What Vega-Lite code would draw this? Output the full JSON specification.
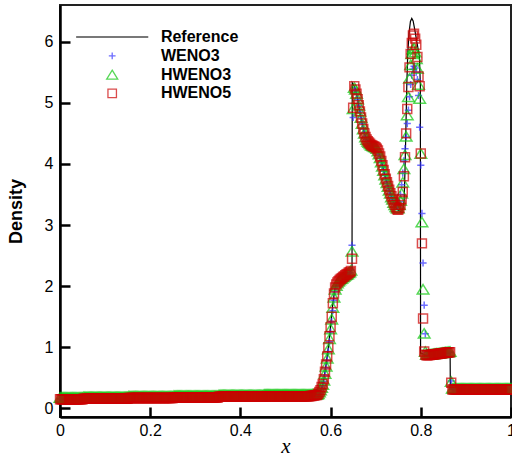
{
"$schema":"https://vega.github.io/schema/vega-lite/v6.json",
"width":451,"height":412,
"autosize":{"type":"none"},
"padding":{"left":60,"top":5,"right":1,"bottom":43},
"background":"white",
"config":{
 "view":{"stroke":"#222","strokeWidth":2},
 "font":"Liberation Sans",
 "axis":{"domainColor":"black","domainWidth":2.5,"tickColor":"black","tickWidth":2.5,"tickSize":-10,"labelFontSize":16,"labelColor":"black","labelFont":"Liberation Sans","grid":false,"labelFlush":false,"labelOverlap":false}
},
"datasets":{
"ref":[
{"x":0,"y":0.15},{"x":0.2,"y":0.17},{"x":0.4,"y":0.19},{"x":0.55,"y":0.205},{"x":0.57,"y":0.215},{"x":0.575,"y":0.23},{"x":0.58,"y":0.32},{"x":0.585,"y":0.48},{"x":0.59,"y":0.72},{"x":0.595,"y":1.0},{"x":0.6,"y":1.35},{"x":0.605,"y":1.72},{"x":0.61,"y":1.98},{"x":0.615,"y":2.06},{"x":0.62,"y":2.1},{"x":0.63,"y":2.16},{"x":0.64,"y":2.22},{"x":0.6475,"y":2.26},{"x":0.648,"y":5.33},{"x":0.652,"y":5.28},{"x":0.655,"y":5.22},{"x":0.66,"y":5.06},{"x":0.665,"y":4.86},{"x":0.67,"y":4.66},{"x":0.675,"y":4.5},{"x":0.68,"y":4.4},{"x":0.69,"y":4.32},{"x":0.7,"y":4.27},{"x":0.705,"y":4.22},{"x":0.71,"y":4.12},{"x":0.715,"y":3.98},{"x":0.72,"y":3.83},{"x":0.725,"y":3.7},{"x":0.73,"y":3.58},{"x":0.735,"y":3.47},{"x":0.74,"y":3.37},{"x":0.745,"y":3.29},{"x":0.75,"y":3.24},{"x":0.755,"y":3.22},{"x":0.76,"y":3.25},{"x":0.763,"y":3.4},{"x":0.765,"y":3.9},{"x":0.767,"y":4.6},{"x":0.769,"y":5.3},{"x":0.771,"y":5.8},{"x":0.774,"y":6.15},{"x":0.777,"y":6.33},{"x":0.78,"y":6.38},{"x":0.783,"y":6.34},{"x":0.786,"y":6.22},{"x":0.79,"y":6.05},{"x":0.794,"y":5.88},{"x":0.797,"y":5.75},{"x":0.799,"y":5.3},{"x":0.7995,"y":0.9},{"x":0.81,"y":0.88},{"x":0.83,"y":0.89},{"x":0.85,"y":0.9},{"x":0.865,"y":0.91},{"x":0.8655,"y":0.34},{"x":0.9,"y":0.33},{"x":1,"y":0.33}
],
"sim":[
{"x":0,"W":0.16,"H3":0.18,"H5":0.15},{"x":0.0025,"W":0.16,"H3":0.18,"H5":0.15},{"x":0.005,"W":0.16,"H3":0.18,"H5":0.15},{"x":0.0075,"W":0.16,"H3":0.18,"H5":0.15},{"x":0.01,"W":0.16,"H3":0.18,"H5":0.15},{"x":0.0125,"W":0.16,"H3":0.18,"H5":0.15},{"x":0.015,"W":0.16,"H3":0.18,"H5":0.15},{"x":0.0175,"W":0.16,"H3":0.18,"H5":0.15},{"x":0.02,"W":0.16,"H3":0.18,"H5":0.15},{"x":0.0225,"W":0.16,"H3":0.18,"H5":0.15},{"x":0.025,"W":0.16,"H3":0.18,"H5":0.15},{"x":0.0275,"W":0.16,"H3":0.18,"H5":0.15},{"x":0.03,"W":0.16,"H3":0.18,"H5":0.15},{"x":0.0325,"W":0.16,"H3":0.18,"H5":0.15},{"x":0.035,"W":0.16,"H3":0.18,"H5":0.15},{"x":0.0375,"W":0.16,"H3":0.18,"H5":0.15},{"x":0.04,"W":0.16,"H3":0.18,"H5":0.15},{"x":0.0425,"W":0.16,"H3":0.18,"H5":0.15},{"x":0.045,"W":0.16,"H3":0.18,"H5":0.15},{"x":0.0475,"W":0.16,"H3":0.18,"H5":0.15},{"x":0.05,"W":0.16,"H3":0.18,"H5":0.15},
{"x":0.0525,"W":0.17,"H3":0.19,"H5":0.16},{"x":0.055,"W":0.17,"H3":0.19,"H5":0.16},{"x":0.0575,"W":0.17,"H3":0.19,"H5":0.16},{"x":0.06,"W":0.17,"H3":0.19,"H5":0.16},{"x":0.0625,"W":0.17,"H3":0.19,"H5":0.16},{"x":0.065,"W":0.17,"H3":0.19,"H5":0.16},{"x":0.0675,"W":0.17,"H3":0.19,"H5":0.16},{"x":0.07,"W":0.17,"H3":0.19,"H5":0.16},{"x":0.0725,"W":0.17,"H3":0.19,"H5":0.16},{"x":0.075,"W":0.17,"H3":0.19,"H5":0.16},{"x":0.0775,"W":0.17,"H3":0.19,"H5":0.16},{"x":0.08,"W":0.17,"H3":0.19,"H5":0.16},{"x":0.0825,"W":0.17,"H3":0.19,"H5":0.16},{"x":0.085,"W":0.17,"H3":0.19,"H5":0.16},{"x":0.0875,"W":0.17,"H3":0.19,"H5":0.16},{"x":0.09,"W":0.17,"H3":0.19,"H5":0.16},{"x":0.0925,"W":0.17,"H3":0.19,"H5":0.16},{"x":0.095,"W":0.17,"H3":0.19,"H5":0.16},{"x":0.0975,"W":0.17,"H3":0.19,"H5":0.16},{"x":0.1,"W":0.17,"H3":0.19,"H5":0.16},{"x":0.1025,"W":0.17,"H3":0.19,"H5":0.16},{"x":0.105,"W":0.17,"H3":0.19,"H5":0.16},{"x":0.1075,"W":0.17,"H3":0.19,"H5":0.16},{"x":0.11,"W":0.17,"H3":0.19,"H5":0.16},{"x":0.1125,"W":0.17,"H3":0.19,"H5":0.16},{"x":0.115,"W":0.17,"H3":0.19,"H5":0.16},{"x":0.1175,"W":0.17,"H3":0.19,"H5":0.16},{"x":0.12,"W":0.17,"H3":0.19,"H5":0.16},{"x":0.1225,"W":0.17,"H3":0.19,"H5":0.16},{"x":0.125,"W":0.17,"H3":0.19,"H5":0.16},{"x":0.1275,"W":0.17,"H3":0.19,"H5":0.16},{"x":0.13,"W":0.17,"H3":0.19,"H5":0.16},{"x":0.1325,"W":0.17,"H3":0.19,"H5":0.16},{"x":0.135,"W":0.17,"H3":0.19,"H5":0.16},{"x":0.1375,"W":0.17,"H3":0.19,"H5":0.16},{"x":0.14,"W":0.17,"H3":0.19,"H5":0.16},{"x":0.1425,"W":0.17,"H3":0.19,"H5":0.16},{"x":0.145,"W":0.17,"H3":0.19,"H5":0.16},{"x":0.1475,"W":0.17,"H3":0.19,"H5":0.16},{"x":0.15,"W":0.17,"H3":0.19,"H5":0.16},
{"x":0.1525,"W":0.18,"H3":0.2,"H5":0.17},{"x":0.155,"W":0.18,"H3":0.2,"H5":0.17},{"x":0.1575,"W":0.18,"H3":0.2,"H5":0.17},{"x":0.16,"W":0.18,"H3":0.2,"H5":0.17},{"x":0.1625,"W":0.18,"H3":0.2,"H5":0.17},{"x":0.165,"W":0.18,"H3":0.2,"H5":0.17},{"x":0.1675,"W":0.18,"H3":0.2,"H5":0.17},{"x":0.17,"W":0.18,"H3":0.2,"H5":0.17},{"x":0.1725,"W":0.18,"H3":0.2,"H5":0.17},{"x":0.175,"W":0.18,"H3":0.2,"H5":0.17},{"x":0.1775,"W":0.18,"H3":0.2,"H5":0.17},{"x":0.18,"W":0.18,"H3":0.2,"H5":0.17},{"x":0.1825,"W":0.18,"H3":0.2,"H5":0.17},{"x":0.185,"W":0.18,"H3":0.2,"H5":0.17},{"x":0.1875,"W":0.18,"H3":0.2,"H5":0.17},{"x":0.19,"W":0.18,"H3":0.2,"H5":0.17},{"x":0.1925,"W":0.18,"H3":0.2,"H5":0.17},{"x":0.195,"W":0.18,"H3":0.2,"H5":0.17},{"x":0.1975,"W":0.18,"H3":0.2,"H5":0.17},{"x":0.2,"W":0.18,"H3":0.2,"H5":0.17},{"x":0.2025,"W":0.18,"H3":0.2,"H5":0.17},{"x":0.205,"W":0.18,"H3":0.2,"H5":0.17},{"x":0.2075,"W":0.18,"H3":0.2,"H5":0.17},{"x":0.21,"W":0.18,"H3":0.2,"H5":0.17},{"x":0.2125,"W":0.18,"H3":0.2,"H5":0.17},{"x":0.215,"W":0.18,"H3":0.2,"H5":0.17},{"x":0.2175,"W":0.18,"H3":0.2,"H5":0.17},{"x":0.22,"W":0.18,"H3":0.2,"H5":0.17},{"x":0.2225,"W":0.18,"H3":0.2,"H5":0.17},{"x":0.225,"W":0.18,"H3":0.2,"H5":0.17},{"x":0.2275,"W":0.18,"H3":0.2,"H5":0.17},{"x":0.23,"W":0.18,"H3":0.2,"H5":0.17},{"x":0.2325,"W":0.18,"H3":0.2,"H5":0.17},{"x":0.235,"W":0.18,"H3":0.2,"H5":0.17},{"x":0.2375,"W":0.18,"H3":0.2,"H5":0.17},{"x":0.24,"W":0.18,"H3":0.2,"H5":0.17},{"x":0.2425,"W":0.18,"H3":0.2,"H5":0.17},{"x":0.245,"W":0.18,"H3":0.2,"H5":0.17},{"x":0.2475,"W":0.18,"H3":0.2,"H5":0.17},{"x":0.25,"W":0.18,"H3":0.2,"H5":0.17},
{"x":0.2525,"W":0.19,"H3":0.21,"H5":0.18},{"x":0.255,"W":0.19,"H3":0.21,"H5":0.18},{"x":0.2575,"W":0.19,"H3":0.21,"H5":0.18},{"x":0.26,"W":0.19,"H3":0.21,"H5":0.18},{"x":0.2625,"W":0.19,"H3":0.21,"H5":0.18},{"x":0.265,"W":0.19,"H3":0.21,"H5":0.18},{"x":0.2675,"W":0.19,"H3":0.21,"H5":0.18},{"x":0.27,"W":0.19,"H3":0.21,"H5":0.18},{"x":0.2725,"W":0.19,"H3":0.21,"H5":0.18},{"x":0.275,"W":0.19,"H3":0.21,"H5":0.18},{"x":0.2775,"W":0.19,"H3":0.21,"H5":0.18},{"x":0.28,"W":0.19,"H3":0.21,"H5":0.18},{"x":0.2825,"W":0.19,"H3":0.21,"H5":0.18},{"x":0.285,"W":0.19,"H3":0.21,"H5":0.18},{"x":0.2875,"W":0.19,"H3":0.21,"H5":0.18},{"x":0.29,"W":0.19,"H3":0.21,"H5":0.18},{"x":0.2925,"W":0.19,"H3":0.21,"H5":0.18},{"x":0.295,"W":0.19,"H3":0.21,"H5":0.18},{"x":0.2975,"W":0.19,"H3":0.21,"H5":0.18},{"x":0.3,"W":0.19,"H3":0.21,"H5":0.18},{"x":0.3025,"W":0.19,"H3":0.21,"H5":0.18},{"x":0.305,"W":0.19,"H3":0.21,"H5":0.18},{"x":0.3075,"W":0.19,"H3":0.21,"H5":0.18},{"x":0.31,"W":0.19,"H3":0.21,"H5":0.18},{"x":0.3125,"W":0.19,"H3":0.21,"H5":0.18},{"x":0.315,"W":0.19,"H3":0.21,"H5":0.18},{"x":0.3175,"W":0.19,"H3":0.21,"H5":0.18},{"x":0.32,"W":0.19,"H3":0.21,"H5":0.18},{"x":0.3225,"W":0.19,"H3":0.21,"H5":0.18},{"x":0.325,"W":0.19,"H3":0.21,"H5":0.18},{"x":0.3275,"W":0.19,"H3":0.21,"H5":0.18},{"x":0.33,"W":0.19,"H3":0.21,"H5":0.18},{"x":0.3325,"W":0.19,"H3":0.21,"H5":0.18},{"x":0.335,"W":0.19,"H3":0.21,"H5":0.18},{"x":0.3375,"W":0.19,"H3":0.21,"H5":0.18},{"x":0.34,"W":0.19,"H3":0.21,"H5":0.18},{"x":0.3425,"W":0.19,"H3":0.21,"H5":0.18},{"x":0.345,"W":0.19,"H3":0.21,"H5":0.18},{"x":0.3475,"W":0.19,"H3":0.21,"H5":0.18},{"x":0.35,"W":0.19,"H3":0.21,"H5":0.18},
{"x":0.3525,"W":0.2,"H3":0.22,"H5":0.19},{"x":0.355,"W":0.2,"H3":0.22,"H5":0.19},{"x":0.3575,"W":0.2,"H3":0.22,"H5":0.19},{"x":0.36,"W":0.2,"H3":0.22,"H5":0.19},{"x":0.3625,"W":0.2,"H3":0.22,"H5":0.19},{"x":0.365,"W":0.2,"H3":0.22,"H5":0.19},{"x":0.3675,"W":0.2,"H3":0.22,"H5":0.19},{"x":0.37,"W":0.2,"H3":0.22,"H5":0.19},{"x":0.3725,"W":0.2,"H3":0.22,"H5":0.19},{"x":0.375,"W":0.2,"H3":0.22,"H5":0.19},{"x":0.3775,"W":0.2,"H3":0.22,"H5":0.19},{"x":0.38,"W":0.2,"H3":0.22,"H5":0.19},{"x":0.3825,"W":0.2,"H3":0.22,"H5":0.19},{"x":0.385,"W":0.2,"H3":0.22,"H5":0.19},{"x":0.3875,"W":0.2,"H3":0.22,"H5":0.19},{"x":0.39,"W":0.2,"H3":0.22,"H5":0.19},{"x":0.3925,"W":0.2,"H3":0.22,"H5":0.19},{"x":0.395,"W":0.2,"H3":0.22,"H5":0.19},{"x":0.3975,"W":0.2,"H3":0.22,"H5":0.19},{"x":0.4,"W":0.2,"H3":0.22,"H5":0.19},{"x":0.4025,"W":0.2,"H3":0.22,"H5":0.19},{"x":0.405,"W":0.2,"H3":0.22,"H5":0.19},{"x":0.4075,"W":0.2,"H3":0.22,"H5":0.19},{"x":0.41,"W":0.2,"H3":0.22,"H5":0.19},{"x":0.4125,"W":0.2,"H3":0.22,"H5":0.19},{"x":0.415,"W":0.2,"H3":0.22,"H5":0.19},{"x":0.4175,"W":0.2,"H3":0.22,"H5":0.19},{"x":0.42,"W":0.2,"H3":0.22,"H5":0.19},{"x":0.4225,"W":0.2,"H3":0.22,"H5":0.19},{"x":0.425,"W":0.2,"H3":0.22,"H5":0.19},{"x":0.4275,"W":0.2,"H3":0.22,"H5":0.19},{"x":0.43,"W":0.2,"H3":0.22,"H5":0.19},{"x":0.4325,"W":0.2,"H3":0.22,"H5":0.19},{"x":0.435,"W":0.2,"H3":0.22,"H5":0.19},{"x":0.4375,"W":0.2,"H3":0.22,"H5":0.19},{"x":0.44,"W":0.2,"H3":0.22,"H5":0.19},{"x":0.4425,"W":0.2,"H3":0.22,"H5":0.19},{"x":0.445,"W":0.2,"H3":0.22,"H5":0.19},{"x":0.4475,"W":0.2,"H3":0.22,"H5":0.19},{"x":0.45,"W":0.2,"H3":0.22,"H5":0.19},
{"x":0.4525,"W":0.21,"H3":0.23,"H5":0.2},{"x":0.455,"W":0.21,"H3":0.23,"H5":0.2},{"x":0.4575,"W":0.21,"H3":0.23,"H5":0.2},{"x":0.46,"W":0.21,"H3":0.23,"H5":0.2},{"x":0.4625,"W":0.21,"H3":0.23,"H5":0.2},{"x":0.465,"W":0.21,"H3":0.23,"H5":0.2},{"x":0.4675,"W":0.21,"H3":0.23,"H5":0.2},{"x":0.47,"W":0.21,"H3":0.23,"H5":0.2},{"x":0.4725,"W":0.21,"H3":0.23,"H5":0.2},{"x":0.475,"W":0.21,"H3":0.23,"H5":0.2},{"x":0.4775,"W":0.21,"H3":0.23,"H5":0.2},{"x":0.48,"W":0.21,"H3":0.23,"H5":0.2},{"x":0.4825,"W":0.21,"H3":0.23,"H5":0.2},{"x":0.485,"W":0.21,"H3":0.23,"H5":0.2},{"x":0.4875,"W":0.21,"H3":0.23,"H5":0.2},{"x":0.49,"W":0.21,"H3":0.23,"H5":0.2},{"x":0.4925,"W":0.21,"H3":0.23,"H5":0.2},{"x":0.495,"W":0.21,"H3":0.23,"H5":0.2},{"x":0.4975,"W":0.21,"H3":0.23,"H5":0.2},{"x":0.5,"W":0.21,"H3":0.23,"H5":0.2},{"x":0.5025,"W":0.21,"H3":0.23,"H5":0.2},{"x":0.505,"W":0.21,"H3":0.23,"H5":0.2},{"x":0.5075,"W":0.21,"H3":0.23,"H5":0.2},{"x":0.51,"W":0.21,"H3":0.23,"H5":0.2},{"x":0.5125,"W":0.21,"H3":0.23,"H5":0.2},{"x":0.515,"W":0.21,"H3":0.23,"H5":0.2},{"x":0.5175,"W":0.21,"H3":0.23,"H5":0.2},{"x":0.52,"W":0.21,"H3":0.23,"H5":0.2},{"x":0.5225,"W":0.21,"H3":0.23,"H5":0.2},{"x":0.525,"W":0.21,"H3":0.23,"H5":0.2},{"x":0.5275,"W":0.21,"H3":0.23,"H5":0.2},{"x":0.53,"W":0.21,"H3":0.23,"H5":0.2},{"x":0.5325,"W":0.21,"H3":0.23,"H5":0.2},{"x":0.535,"W":0.21,"H3":0.23,"H5":0.2},{"x":0.5375,"W":0.21,"H3":0.23,"H5":0.2},{"x":0.54,"W":0.21,"H3":0.23,"H5":0.2},{"x":0.5425,"W":0.21,"H3":0.23,"H5":0.2},{"x":0.545,"W":0.21,"H3":0.23,"H5":0.2},{"x":0.5475,"W":0.21,"H3":0.23,"H5":0.2},{"x":0.55,"W":0.21,"H3":0.23,"H5":0.2},
{"x":0.5525,"W":0.21,"H3":0.23,"H5":0.2},{"x":0.555,"W":0.21,"H3":0.23,"H5":0.205},{"x":0.5575,"W":0.21,"H3":0.23,"H5":0.205},{"x":0.56,"W":0.215,"H3":0.235,"H5":0.21},{"x":0.5625,"W":0.215,"H3":0.235,"H5":0.21},{"x":0.565,"W":0.215,"H3":0.235,"H5":0.215},{"x":0.5675,"W":0.218,"H3":0.232,"H5":0.218},
{"x":0.57,"W":0.22,"H3":0.23,"H5":0.22},{"x":0.5725,"W":0.23,"H3":0.24,"H5":0.24},{"x":0.575,"W":0.25,"H3":0.27,"H5":0.27},{"x":0.5775,"W":0.28,"H3":0.3,"H5":0.3},{"x":0.58,"W":0.32,"H3":0.34,"H5":0.35},{"x":0.5825,"W":0.37,"H3":0.39,"H5":0.4},{"x":0.585,"W":0.44,"H3":0.46,"H5":0.48},{"x":0.5875,"W":0.54,"H3":0.57,"H5":0.6},{"x":0.59,"W":0.66,"H3":0.69,"H5":0.72},{"x":0.5925,"W":0.79,"H3":0.82,"H5":0.85},{"x":0.595,"W":0.93,"H3":0.97,"H5":1.0},{"x":0.5975,"W":1.09,"H3":1.14,"H5":1.18},{"x":0.6,"W":1.25,"H3":1.3,"H5":1.33},{"x":0.6025,"W":1.42,"H3":1.46,"H5":1.5},{"x":0.605,"W":1.6,"H3":1.65,"H5":1.72},{"x":0.6075,"W":1.77,"H3":1.82,"H5":1.88},{"x":0.61,"W":1.91,"H3":1.95,"H5":1.98},{"x":0.6125,"W":1.99,"H3":2.01,"H5":2.03},{"x":0.615,"W":2.04,"H3":2.05,"H5":2.06},{"x":0.6175,"W":2.07,"H3":2.08,"H5":2.08},{"x":0.62,"W":2.1,"H3":2.1,"H5":2.1},{"x":0.6225,"W":2.12,"H3":2.12,"H5":2.12},{"x":0.625,"W":2.13,"H3":2.13,"H5":2.13},{"x":0.6275,"W":2.15,"H3":2.15,"H5":2.15},{"x":0.63,"W":2.16,"H3":2.16,"H5":2.16},{"x":0.6325,"W":2.18,"H3":2.18,"H5":2.18},{"x":0.635,"W":2.19,"H3":2.19,"H5":2.19},{"x":0.6375,"W":2.2,"H3":2.2,"H5":2.2},{"x":0.64,"W":2.21,"H3":2.22,"H5":2.22},{"x":0.6425,"W":2.22,"H3":2.23,"H5":2.23},{"x":0.645,"W":2.27,"H3":2.26,"H5":2.25},{"x":0.6475,"W":2.67,"H3":2.57,"H5":2.45},
{"x":0.65,"W":4.76,"H3":4.9,"H5":4.92},{"x":0.6525,"W":5.2,"H3":5.25,"H5":5.27},{"x":0.655,"W":5.21,"H3":5.22,"H5":5.22},{"x":0.6575,"W":5.14,"H3":5.15,"H5":5.15},{"x":0.66,"W":5.05,"H3":5.06,"H5":5.06},{"x":0.6625,"W":4.95,"H3":4.96,"H5":4.96},{"x":0.665,"W":4.85,"H3":4.86,"H5":4.86},{"x":0.6675,"W":4.75,"H3":4.76,"H5":4.76},{"x":0.67,"W":4.66,"H3":4.66,"H5":4.66},{"x":0.6725,"W":4.57,"H3":4.57,"H5":4.57},{"x":0.675,"W":4.5,"H3":4.5,"H5":4.5},{"x":0.6775,"W":4.44,"H3":4.44,"H5":4.44},{"x":0.68,"W":4.4,"H3":4.4,"H5":4.4},{"x":0.6825,"W":4.37,"H3":4.37,"H5":4.37},{"x":0.685,"W":4.35,"H3":4.35,"H5":4.35},{"x":0.6875,"W":4.33,"H3":4.33,"H5":4.33},{"x":0.69,"W":4.31,"H3":4.31,"H5":4.31},{"x":0.6925,"W":4.3,"H3":4.3,"H5":4.3},{"x":0.695,"W":4.29,"H3":4.29,"H5":4.29},{"x":0.6975,"W":4.28,"H3":4.28,"H5":4.28},{"x":0.7,"W":4.26,"H3":4.27,"H5":4.27},{"x":0.7025,"W":4.24,"H3":4.25,"H5":4.25},{"x":0.705,"W":4.2,"H3":4.21,"H5":4.22},{"x":0.7075,"W":4.15,"H3":4.16,"H5":4.17},{"x":0.71,"W":4.09,"H3":4.1,"H5":4.12},{"x":0.7125,"W":4.02,"H3":4.03,"H5":4.05},{"x":0.715,"W":3.95,"H3":3.96,"H5":3.98},{"x":0.7175,"W":3.88,"H3":3.89,"H5":3.9},{"x":0.72,"W":3.81,"H3":3.82,"H5":3.83},{"x":0.7225,"W":3.74,"H3":3.75,"H5":3.76},{"x":0.725,"W":3.68,"H3":3.69,"H5":3.7},{"x":0.7275,"W":3.62,"H3":3.63,"H5":3.64},{"x":0.73,"W":3.56,"H3":3.57,"H5":3.58},{"x":0.7325,"W":3.51,"H3":3.52,"H5":3.52},{"x":0.735,"W":3.46,"H3":3.46,"H5":3.47},{"x":0.7375,"W":3.42,"H3":3.42,"H5":3.42},{"x":0.74,"W":3.38,"H3":3.37,"H5":3.37},{"x":0.7425,"W":3.35,"H3":3.33,"H5":3.33},{"x":0.745,"W":3.32,"H3":3.3,"H5":3.29},{"x":0.7475,"W":3.3,"H3":3.28,"H5":3.26},{"x":0.75,"W":3.3,"H3":3.28,"H5":3.25},{"x":0.7525,"W":3.38,"H3":3.33,"H5":3.28},{"x":0.755,"W":3.5,"H3":3.4,"H5":3.33},{"x":0.7575,"W":3.66,"H3":3.52,"H5":3.42},{"x":0.76,"W":3.85,"H3":3.7,"H5":3.54},{"x":0.7625,"W":4.05,"H3":3.92,"H5":3.8},{"x":0.765,"W":4.25,"H3":4.15,"H5":4.11},{"x":0.7675,"W":4.44,"H3":4.45,"H5":4.5},{"x":0.77,"W":4.66,"H3":4.8,"H5":4.9},{"x":0.7725,"W":4.88,"H3":5.1,"H5":5.26},{"x":0.775,"W":5.1,"H3":5.4,"H5":5.58},{"x":0.7775,"W":5.3,"H3":5.62,"H5":5.8},{"x":0.78,"W":5.45,"H3":5.8,"H5":5.98},{"x":0.7825,"W":5.55,"H3":5.88,"H5":6.1},{"x":0.785,"W":5.6,"H3":5.9,"H5":6.13},{"x":0.7875,"W":5.57,"H3":5.83,"H5":6.05},{"x":0.79,"W":5.5,"H3":5.72,"H5":5.95},{"x":0.7925,"W":5.38,"H3":5.56,"H5":5.75},{"x":0.795,"W":5.12,"H3":5.3,"H5":5.43},{"x":0.7975,"W":4.6,"H3":5.07,"H5":5.27},{"x":0.8,"W":3.98,"H3":4.17,"H5":4.17},{"x":0.8025,"W":3.19,"H3":3.05,"H5":2.7},{"x":0.805,"W":2.38,"H3":1.95,"H5":1.47},{"x":0.8075,"W":1.69,"H3":1.23,"H5":0.93},{"x":0.81,"W":1.22,"H3":0.93,"H5":0.88},{"x":0.8125,"W":0.92,"H3":0.88,"H5":0.87},
{"x":0.815,"W":0.87,"H3":0.88,"H5":0.87},{"x":0.8175,"W":0.872,"H3":0.882,"H5":0.872},{"x":0.82,"W":0.875,"H3":0.885,"H5":0.875},{"x":0.8225,"W":0.878,"H3":0.888,"H5":0.878},{"x":0.825,"W":0.88,"H3":0.89,"H5":0.88},{"x":0.8275,"W":0.882,"H3":0.892,"H5":0.882},{"x":0.83,"W":0.885,"H3":0.895,"H5":0.885},{"x":0.8325,"W":0.888,"H3":0.898,"H5":0.888},{"x":0.835,"W":0.89,"H3":0.9,"H5":0.89},{"x":0.8375,"W":0.892,"H3":0.902,"H5":0.892},{"x":0.84,"W":0.895,"H3":0.905,"H5":0.895},{"x":0.8425,"W":0.898,"H3":0.908,"H5":0.898},{"x":0.845,"W":0.9,"H3":0.91,"H5":0.9},{"x":0.8475,"W":0.902,"H3":0.912,"H5":0.902},{"x":0.85,"W":0.905,"H3":0.915,"H5":0.905},{"x":0.8525,"W":0.908,"H3":0.918,"H5":0.908},{"x":0.855,"W":0.91,"H3":0.92,"H5":0.91},{"x":0.8575,"W":0.912,"H3":0.922,"H5":0.912},{"x":0.86,"W":0.915,"H3":0.925,"H5":0.915},{"x":0.8625,"W":0.918,"H3":0.928,"H5":0.918},{"x":0.865,"W":0.92,"H3":0.93,"H5":0.92},{"x":0.8675,"W":0.45,"H3":0.44,"H5":0.42},
{"x":0.87,"W":0.32,"H3":0.33,"H5":0.31},{"x":0.8725,"W":0.32,"H3":0.33,"H5":0.31},{"x":0.875,"W":0.32,"H3":0.33,"H5":0.31},{"x":0.8775,"W":0.32,"H3":0.33,"H5":0.31},{"x":0.88,"W":0.32,"H3":0.33,"H5":0.31},{"x":0.8825,"W":0.32,"H3":0.33,"H5":0.31},{"x":0.885,"W":0.32,"H3":0.33,"H5":0.31},{"x":0.8875,"W":0.32,"H3":0.33,"H5":0.31},{"x":0.89,"W":0.32,"H3":0.33,"H5":0.31},{"x":0.8925,"W":0.32,"H3":0.33,"H5":0.31},{"x":0.895,"W":0.32,"H3":0.33,"H5":0.31},{"x":0.8975,"W":0.32,"H3":0.33,"H5":0.31},{"x":0.9,"W":0.32,"H3":0.33,"H5":0.31},{"x":0.9025,"W":0.32,"H3":0.33,"H5":0.31},{"x":0.905,"W":0.32,"H3":0.33,"H5":0.31},{"x":0.9075,"W":0.32,"H3":0.33,"H5":0.31},{"x":0.91,"W":0.32,"H3":0.33,"H5":0.31},{"x":0.9125,"W":0.32,"H3":0.33,"H5":0.31},{"x":0.915,"W":0.32,"H3":0.33,"H5":0.31},{"x":0.9175,"W":0.32,"H3":0.33,"H5":0.31},{"x":0.92,"W":0.32,"H3":0.33,"H5":0.31},{"x":0.9225,"W":0.32,"H3":0.33,"H5":0.31},{"x":0.925,"W":0.32,"H3":0.33,"H5":0.31},{"x":0.9275,"W":0.32,"H3":0.33,"H5":0.31},{"x":0.93,"W":0.32,"H3":0.33,"H5":0.31},{"x":0.9325,"W":0.32,"H3":0.33,"H5":0.31},{"x":0.935,"W":0.32,"H3":0.33,"H5":0.31},{"x":0.9375,"W":0.32,"H3":0.33,"H5":0.31},{"x":0.94,"W":0.32,"H3":0.33,"H5":0.31},{"x":0.9425,"W":0.32,"H3":0.33,"H5":0.31},{"x":0.945,"W":0.32,"H3":0.33,"H5":0.31},{"x":0.9475,"W":0.32,"H3":0.33,"H5":0.31},{"x":0.95,"W":0.32,"H3":0.33,"H5":0.31},{"x":0.9525,"W":0.32,"H3":0.33,"H5":0.31},{"x":0.955,"W":0.32,"H3":0.33,"H5":0.31},{"x":0.9575,"W":0.32,"H3":0.33,"H5":0.31},{"x":0.96,"W":0.32,"H3":0.33,"H5":0.31},{"x":0.9625,"W":0.32,"H3":0.33,"H5":0.31},{"x":0.965,"W":0.32,"H3":0.33,"H5":0.31},{"x":0.9675,"W":0.32,"H3":0.33,"H5":0.31},{"x":0.97,"W":0.32,"H3":0.33,"H5":0.31},{"x":0.9725,"W":0.32,"H3":0.33,"H5":0.31},{"x":0.975,"W":0.32,"H3":0.33,"H5":0.31},{"x":0.9775,"W":0.32,"H3":0.33,"H5":0.31},{"x":0.98,"W":0.32,"H3":0.33,"H5":0.31},{"x":0.9825,"W":0.32,"H3":0.33,"H5":0.31},{"x":0.985,"W":0.32,"H3":0.33,"H5":0.31},{"x":0.9875,"W":0.32,"H3":0.33,"H5":0.31},{"x":0.99,"W":0.32,"H3":0.33,"H5":0.31},{"x":0.9925,"W":0.32,"H3":0.33,"H5":0.31},{"x":0.995,"W":0.32,"H3":0.33,"H5":0.31},{"x":0.9975,"W":0.32,"H3":0.33,"H5":0.31},{"x":1,"W":0.32,"H3":0.33,"H5":0.31}
]
},
"layer":[
 {"data":{"name":"ref"},
  "mark":{"type":"line","strokeWidth":1.2,"clip":false},
  "encoding":{
   "x":{"field":"x","type":"quantitative","scale":{"domain":[0,1],"nice":false,"zero":false},
        "axis":{"values":[0,0.2,0.4,0.6,0.8,1],"format":"~g","labelPadding":15,"title":"x","titleFont":"Liberation Serif","titleFontStyle":"italic","titleFontWeight":"normal","titleFontSize":21,"titleColor":"black","titleBaseline":"alphabetic","titleY":35}},
   "y":{"field":"y","type":"quantitative","scale":{"domain":[-0.14,6.6],"nice":false,"zero":false},
        "axis":{"values":[0,1,2,3,4,5,6],"format":"d","labelPadding":17,"title":"Density","titleFont":"Liberation Sans","titleFontWeight":"bold","titleFontSize":18,"titleColor":"black","titleX":-44,"titleY":206,"titleAlign":"center","titleBaseline":"middle"}},
   "color":{"datum":"Reference","type":"nominal",
     "scale":{"domain":["Reference","WENO3","HWENO3","HWENO5"],"range":["black","#3030ff","#10c810","#cc0000"]},
     "legend":{"orient":"none","legendX":44.2,"legendY":24,"title":null,"padding":0,"labelFont":"Liberation Sans","labelFontSize":16,"labelFontWeight":"bold","labelColor":"black","symbolSize":72,"symbolStrokeWidth":1.3,"labelOffset":40.7,"rowPadding":2.8,"symbolFillColor":"transparent"}}
  }},
 {"data":{"name":"sim"},
  "mark":{"type":"point","filled":false,"size":80,"strokeWidth":1.5,"clip":false},
  "encoding":{
   "x":{"field":"x","type":"quantitative"},
   "y":{"field":"W","type":"quantitative"},
   "color":{"datum":"WENO3","type":"nominal"},
   "shape":{"datum":"WENO3","type":"nominal",
     "scale":{"domain":["Reference","WENO3","HWENO3","HWENO5"],"range":["M-8.5,0H8.5","M-0.8,0H0.8M0,-0.8V0.8","M0,-1.05L1.3,1.05L-1.3,1.05Z","M-1,-1H1V1H-1Z"]},
     "legend":{"orient":"none","legendX":44.2,"legendY":24,"title":null,"padding":0,"labelFont":"Liberation Sans","labelFontSize":16,"labelFontWeight":"bold","labelColor":"black","symbolSize":72,"symbolStrokeWidth":1.3,"labelOffset":40.7,"rowPadding":2.8,"symbolFillColor":"transparent"}}
  }},
 {"data":{"name":"sim"},
  "mark":{"type":"point","filled":false,"size":80,"strokeWidth":1.5,"clip":false},
  "encoding":{
   "x":{"field":"x","type":"quantitative"},
   "y":{"field":"H3","type":"quantitative"},
   "color":{"datum":"HWENO3","type":"nominal"},
   "shape":{"datum":"HWENO3","type":"nominal"}
  }},
 {"data":{"name":"sim"},
  "mark":{"type":"point","filled":false,"size":80,"strokeWidth":1.5,"clip":false},
  "encoding":{
   "x":{"field":"x","type":"quantitative"},
   "y":{"field":"H5","type":"quantitative"},
   "color":{"datum":"HWENO5","type":"nominal"},
   "shape":{"datum":"HWENO5","type":"nominal"}
  }}
]
}
